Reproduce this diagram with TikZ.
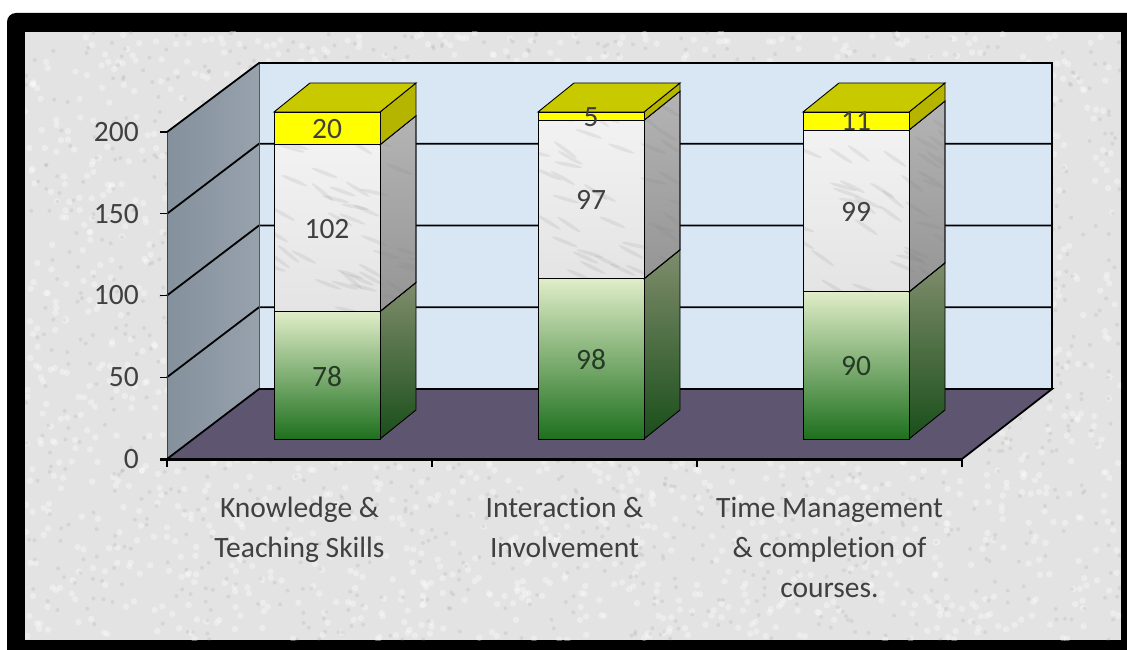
\documentclass[tikz,border=0pt]{standalone}
\usepackage{fontspec}
\setmainfont{Carlito}[Ligatures=NoCommon]
\definecolor{bgcol}{HTML}{E3E3E3}
\definecolor{wallback}{HTML}{D9E7F4}
\definecolor{wallleftA}{HTML}{84909C}
\definecolor{wallleftB}{HTML}{97A2AD}
\definecolor{floorcol}{HTML}{5E5670}
\definecolor{labelcol}{HTML}{404040}
\definecolor{greenTop}{HTML}{E0EDC8}
\definecolor{greenMid}{HTML}{8DB05E}
\definecolor{greenBot}{HTML}{1E701E}
\definecolor{greenSideTop}{HTML}{7F8D6C}
\definecolor{greenSideBot}{HTML}{1A4E1A}
\definecolor{marbleFront}{HTML}{F2F2F2}
\definecolor{marbleFrontB}{HTML}{E4E4E4}
\definecolor{marbleSideTop}{HTML}{B4B4B4}
\definecolor{marbleSideBot}{HTML}{959595}
\definecolor{yelFront}{HTML}{FFFF00}
\definecolor{yelTop}{HTML}{C9C900}
\definecolor{yelSide}{HTML}{B5B500}
\definecolor{valgreen}{HTML}{263A26}
\tikzset{
  gridline/.style={black, line width=1.8pt},
  edgeline/.style={black, line width=1.4pt},
  greenfront/.style={top color=greenTop, middle color=greenMid, bottom color=greenBot, draw=black, line width=0.9pt},
  greenside/.style={top color=greenSideTop, bottom color=greenSideBot, draw=black, line width=0.9pt},
  marblefront/.style={top color=marbleFront, bottom color=marbleFrontB, draw=black, line width=0.9pt},
  marbleside/.style={top color=marbleSideTop, bottom color=marbleSideBot, draw=black, line width=0.9pt},
  yelfront/.style={fill=yelFront, draw=black, line width=0.9pt},
  yelside/.style={fill=yelSide, draw=black, line width=0.9pt},
  yeltop/.style={fill=yelTop, draw=black, line width=0.9pt},
  axislabel/.style={text=labelcol, font=\fontsize{29.5}{34}\selectfont, inner sep=0pt},
  catlabel/.style={text=labelcol, font=\fontsize{29.5}{40}\selectfont, inner sep=0pt, align=center, anchor=north},
  vallabel/.style={text=labelcol, font=\fontsize{29.5}{34}\selectfont, inner sep=0pt},
}
% #1 centre x of the front face, #2 top y, #3 bottom y, #4 front style, #5 side style
\newcommand\barseg[5]{%
  \path[#5] (#1+53,#3) -- (#1+89,#3-29) -- (#1+89,#2-29) -- (#1+53,#2) -- cycle;
  \path[#4] (#1-53,#2) rectangle (#1+53,#3);
}
% marble veining: #1 centre x, #2 top y, #3 bottom y
\newcommand\marbletex[3]{%
  \begin{scope}
    \clip (#1-53,#2) rectangle (#1+53,#3) (#1+53,#3) -- (#1+89,#3-29) -- (#1+89,#2-29) -- (#1+53,#2) -- cycle;
    \foreach \k in {1,...,40}{
      \pgfmathsetmacro\mx{#1-60+rnd*155}
      \pgfmathsetmacro\my{#2-20+rnd*(#3-#2+20)}
      \pgfmathsetmacro\ma{-40+rnd*30}
      \fill[gray, opacity=0.13, rotate around={\ma:(\mx,\my)}] (\mx,\my) ellipse (14 and 1.8);
    }
  \end{scope}
  \draw[black, line width=0.9pt] (#1-53,#2) rectangle (#1+53,#3);
  \draw[black, line width=0.9pt] (#1+53,#3) -- (#1+89,#3-29) -- (#1+89,#2-29) -- (#1+53,#2);
}
\newcommand\bartop[1]{%
  \path[yeltop] (#1-53,112) -- (#1-17,83) -- (#1+89,83) -- (#1+53,112) -- cycle;
}
\begin{document}
\begin{tikzpicture}[x=1pt,y=-1pt]
\useasboundingbox (0,0) rectangle (1127,650);
\fill[white] (0,0) rectangle (1127,650);
% frame
\fill[black, rounded corners=9pt] (7,13) rectangle (1150,670);
\fill[bgcol] (25,32) rectangle (1121,640);
% mottled texture
\pgfmathsetseed{7}
\begin{scope}
\clip (25,32) rectangle (1121,640);
\foreach \i in {1,...,2200}{
  \pgfmathsetmacro\px{25+rnd*1096}
  \pgfmathsetmacro\py{32+rnd*608}
  \fill[white, opacity=0.35] (\px,\py) circle (3.2);
}
\foreach \i in {1,...,1500}{
  \pgfmathsetmacro\px{25+rnd*1096}
  \pgfmathsetmacro\py{32+rnd*608}
  \fill[gray, opacity=0.14] (\px,\py) circle (2.0);
}
\end{scope}
% walls and floor
\shade[left color=wallleftA, right color=wallleftB] (167,459) -- (259,389) -- (259,63) -- (167,132) -- cycle;
\fill[wallback] (259,63) rectangle (1052,389);
\fill[floorcol] (167,459) -- (259,389) -- (1052,389) -- (962,459) -- cycle;
% grid lines
\foreach \v in {50,100,150}{
  \pgfmathsetmacro\yf{459-1.635*\v}
  \draw[gridline] (167,\yf) -- (259,\yf-70) -- (1052,\yf-70);
  \draw[edgeline] (160,\yf) -- (167,\yf);
}
\draw[gray!70!black, line width=0.8pt] (259,63) -- (259,389);
\draw[gray!50!black, line width=1pt] (167,132) -- (167,459);
\draw[gridline] (167,132) -- (259,63) -- (1052,63) -- (1052,389);
\draw[gridline] (167,459) -- (259,389) -- (1052,389) -- (962,459);
\draw[edgeline] (160,132) -- (167,132);
\draw[black, line width=3pt] (160,459) -- (962,459);
\foreach \x in {167,432,697,962}{
  \draw[edgeline] (\x,459) -- (\x,467);
}
% y axis labels
\node[axislabel, anchor=east] (y0) at (139,459) {0};
\node[axislabel, anchor=east] (y50) at (139,377.25) {50};
\node[axislabel, anchor=east] (y100) at (139,295.5) {100};
\node[axislabel, anchor=east] (y150) at (139,213.75) {150};
\node[axislabel, anchor=east] (y200) at (139,132) {200};
% bars
\barseg{327}{311.5}{439}{greenfront}{greenside}
\barseg{327}{144.7}{311.5}{marblefront}{marbleside}
\marbletex{327}{144.7}{311.5}
\barseg{327}{112}{144.7}{yelfront}{yelside}
\bartop{327}
\barseg{591}{278.8}{439}{greenfront}{greenside}
\barseg{591}{120.2}{278.8}{marblefront}{marbleside}
\marbletex{591}{120.2}{278.8}
\barseg{591}{112}{120.2}{yelfront}{yelside}
\bartop{591}
\barseg{856}{291.9}{439}{greenfront}{greenside}
\barseg{856}{130}{291.9}{marblefront}{marbleside}
\marbletex{856}{130}{291.9}
\barseg{856}{112}{130}{yelfront}{yelside}
\bartop{856}
% value labels
\node[vallabel, text=valgreen] (v11) at (327,377) {78};
\node[vallabel] (v12) at (327,229) {102};
\node[vallabel] (v13) at (327,129) {20};
\node[vallabel, text=valgreen] (v21) at (591,360) {98};
\node[vallabel] (v22) at (591,200) {97};
\node[vallabel] (v23) at (591,117) {5};
\node[vallabel, text=valgreen] (v31) at (856,366) {90};
\node[vallabel] (v32) at (856,212) {99};
\node[vallabel] (v33) at (856,121) {11};
% category labels
\node[catlabel] (c1) at (299.5,497) {Knowledge \&\\Teaching Skills};
\node[catlabel] (c2) at (564.5,497) {Interaction \&\\Involvement};
\node[catlabel] (c3) at (829.5,497) {Time Management\\\& completion of\\courses.};
\end{tikzpicture}
\end{document}
